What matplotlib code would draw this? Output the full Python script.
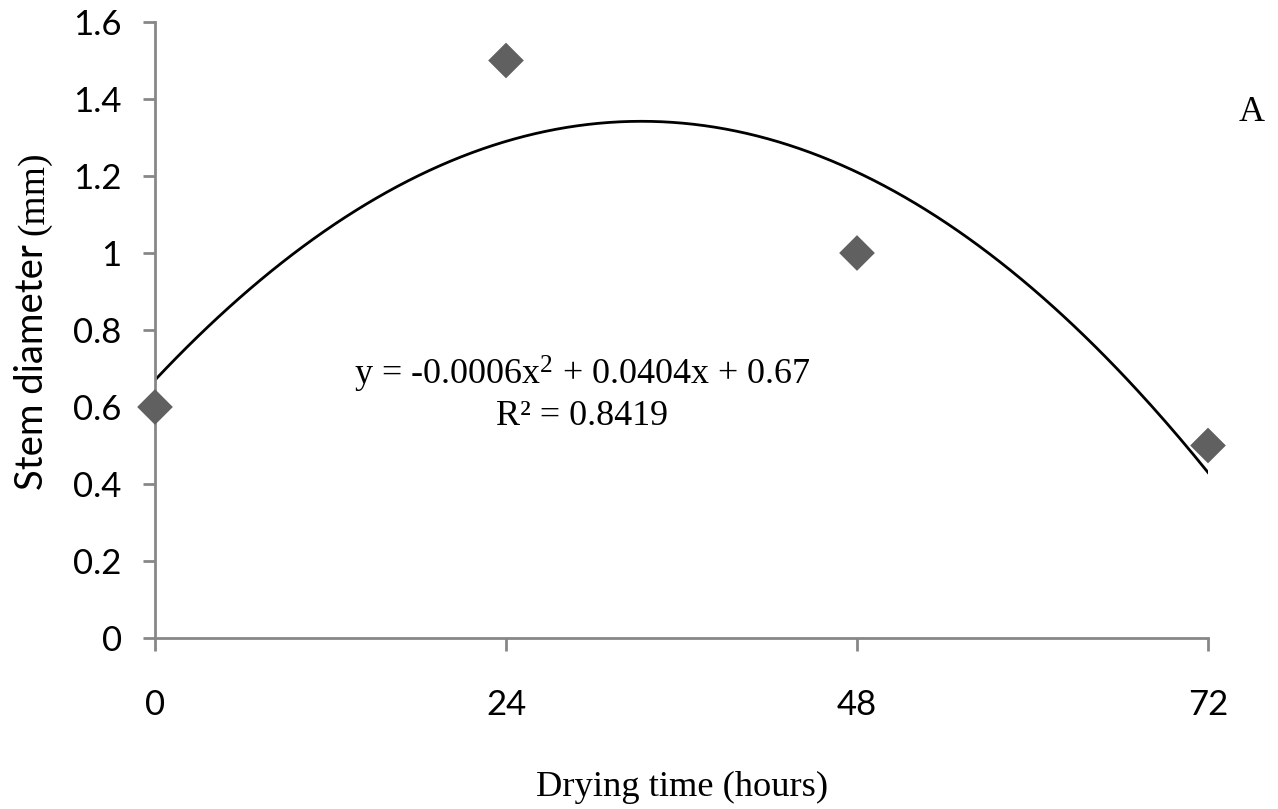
import numpy as np
import matplotlib
matplotlib.use("Agg")
import matplotlib.pyplot as plt

# Data
drying_time = [0, 24, 48, 72]
stem_diameter = [0.6, 1.5, 1.0, 0.5]
x_ticks = [0, 24, 48, 72]
y_ticks = [0, 0.2, 0.4, 0.6, 0.8, 1, 1.2, 1.4, 1.6]
y_tick_labels = ["0", "0.2", "0.4", "0.6", "0.8", "1", "1.2", "1.4", "1.6"]
equation_text = "y = -0.0006x$^{2}$ + 0.0404x + 0.67"
r2_text = "R² = 0.8419"
ylabel_main = "Stem diameter"
ylabel_unit = "(mm)"
xlabel_text = "Drying time (hours)"
panel_label = "A"

plt.rcParams['mathtext.fontset'] = 'custom'
plt.rcParams['mathtext.rm'] = 'Liberation Serif'
plt.rcParams['mathtext.it'] = 'Liberation Serif'

W, H = 1278, 809
fig = plt.figure(figsize=(W/100, H/100), dpi=100)
ax = fig.add_axes([155/W, 1 - 638/H, (1208-155)/W, (638-22)/H])

def fx(px):
    return px / W

def fy(py):
    return 1 - py / H

renderer = fig.canvas.get_renderer()

def fit_size(t, target, horizontal=True):
    for _ in range(4):
        bb = t.get_window_extent(renderer)
        cur = bb.width if horizontal else bb.height
        t.set_fontsize(t.get_fontsize() * target / cur)

# quadratic trend line fitted to the data (as in the spreadsheet)
coef = np.polyfit(drying_time, stem_diameter, 2)
xs = np.linspace(0, 72, 300)
ax.plot(xs, np.polyval(coef, xs), color='black', lw=2, zorder=2)

ax.scatter(drying_time, stem_diameter, marker='D', s=330, color='#606060',
           edgecolors='none', zorder=3, clip_on=False)

ax.set_xlim(0, 72)
ax.set_ylim(0, 1.6)
ax.set_xticks(x_ticks)
ax.set_xticklabels([str(v) for v in x_ticks])
ax.set_yticks(y_ticks)
ax.set_yticklabels(y_tick_labels)

for s in ['top', 'right']:
    ax.spines[s].set_visible(False)
for s in ['left', 'bottom']:
    ax.spines[s].set_color('#878787')
    ax.spines[s].set_linewidth(2)

ax.tick_params(axis='both', colors='#878787', width=2, length=9,
               labelcolor='black', labelsize=25)
ax.tick_params(axis='y', pad=15)
ax.tick_params(axis='x', pad=28)
for lab in ax.get_xticklabels() + ax.get_yticklabels():
    lab.set_fontfamily('Lato')

# y label: sans part + serif unit
t1 = fig.text(fx(43), fy(490), ylabel_main, family='Lato', fontsize=27.5,
              rotation=90, rotation_mode='anchor', ha='left', va='baseline')
bb1 = t1.get_window_extent(renderer)
top1_px = H - bb1.y1
t2 = fig.text(fx(43), fy(top1_px - 9), ylabel_unit, family='Liberation Serif',
              fontsize=27, rotation=90, rotation_mode='anchor', ha='left',
              va='baseline')

# x label
tx = fig.text(fx(682), fy(796), xlabel_text, family='Liberation Serif', fontsize=26,
              ha='center', va='baseline')
fit_size(tx, 292)

# equation and R²
te = fig.text(fx(582), fy(385), equation_text, family='Liberation Serif', fontsize=26,
              ha='center', va='baseline')
fit_size(te, 458)
tr = fig.text(fx(582), fy(425), r2_text, family='Liberation Serif',
              fontsize=te.get_fontsize(), ha='center', va='baseline')

fig.text(fx(1252), fy(121), panel_label, fontsize=te.get_fontsize(),
         family='Liberation Serif', ha='center', va='baseline')

fig.savefig("out.png", dpi=100, facecolor='white')
